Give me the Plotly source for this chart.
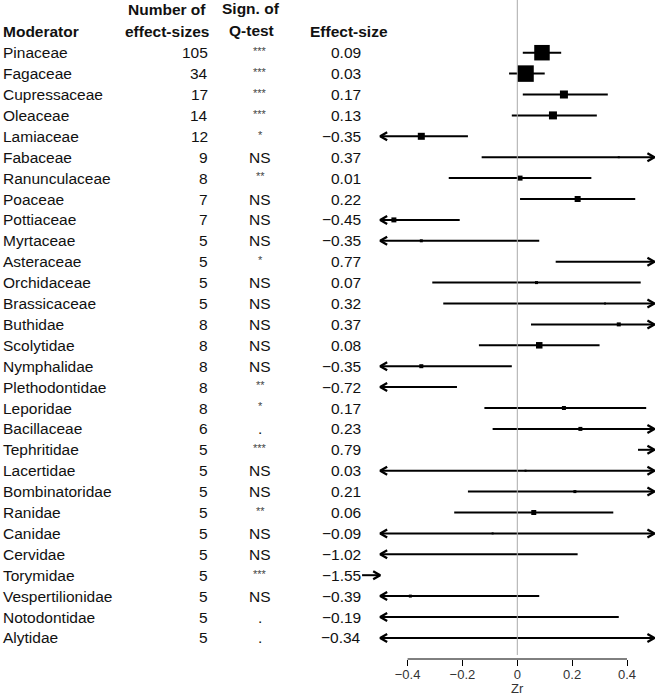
import plotly.graph_objects as go

moderators = ["Pinaceae", "Fagaceae", "Cupressaceae", "Oleaceae", "Lamiaceae", "Fabaceae",
              "Ranunculaceae", "Poaceae", "Pottiaceae", "Myrtaceae", "Asteraceae", "Orchidaceae",
              "Brassicaceae", "Buthidae", "Scolytidae", "Nymphalidae", "Plethodontidae",
              "Leporidae", "Bacillaceae", "Tephritidae", "Lacertidae", "Bombinatoridae",
              "Ranidae", "Canidae", "Cervidae", "Torymidae", "Vespertilionidae",
              "Notodontidae", "Alytidae"]
n_es = [105, 34, 17, 14, 12, 9, 8, 7, 7, 5, 5, 5, 5, 8, 8, 8, 8, 8, 6, 5, 5, 5, 5, 5, 5, 5, 5, 5, 5]
q_sig = ["***", "***", "***", "***", "*", "NS", "**", "NS", "NS", "NS", "*", "NS", "NS", "NS",
         "NS", "NS", "**", "*", ".", "***", "NS", "NS", "**", "NS", "NS", "***", "NS", ".", "."]
effect = [0.09, 0.03, 0.17, 0.13, -0.35, 0.37, 0.01, 0.22, -0.45, -0.35, 0.77, 0.07, 0.32, 0.37,
          0.08, -0.35, -0.72, 0.17, 0.23, 0.79, 0.03, 0.21, 0.06, -0.09, -1.02, -1.55, -0.39,
          -0.19, -0.34]
ci_low = [0.02, -0.03, 0.02, -0.02, -0.52, -0.13, -0.25, 0.01, -0.69, -0.78, 0.14, -0.31, -0.27,
          0.05, -0.14, -0.68, -1.22, -0.12, -0.09, 0.44, -0.90, -0.18, -0.23, -0.80, -2.26,
          -2.50, -0.86, -0.75, -1.10]
ci_high = [0.16, 0.10, 0.33, 0.29, -0.18, 0.87, 0.27, 0.43, -0.21, 0.08, 1.40, 0.45, 0.91, 0.69,
           0.30, -0.02, -0.22, 0.47, 0.55, 1.14, 0.96, 0.60, 0.35, 0.62, 0.22, -0.60, 0.08,
           0.37, 0.52]
weight_px = [15.5, 16.5, 8, 8, 7, 2, 5, 6, 5, 3, 3, 3, 2, 4, 6.5, 4, 3, 4, 4, 3, 2, 3, 5, 2, 2,
             2, 3, 2, 1.5]
tick_vals = [-0.4, -0.2, 0, 0.2, 0.4]
tick_labels = ["\u22120.4", "\u22120.2", "0", "0.2", "0.4"]

W, H = 656, 697
X0_PX, PX_PER_UNIT = 517.3, 274.25
ROW1_PX, ROW_PX = 52.7, 20.9
PLOT_BOTTOM = 659
xmin, xmax = -0.5, 0.5
x_range = [-X0_PX / PX_PER_UNIT, (W - X0_PX) / PX_PER_UNIT]
y_top = 1 - ROW1_PX / ROW_PX
y_bot = 1 + (PLOT_BOTTOM - ROW1_PX) / ROW_PX

FONT = "Liberation Sans, Arial, sans-serif"

def fmt(v):
    s = f"{abs(v):.2f}"
    return ("\u2212" + s) if v < 0 else s

hx = 7 / PX_PER_UNIT
hy = 4 / ROW_PX

seg_x, seg_y, head_x, head_y = [], [], [], []
for i in range(len(moderators)):
    r = i + 1
    lo, hi = ci_low[i], ci_high[i]
    if hi < xmin:
        a, b = xmin - 0.066, xmin
        seg_x += [a, b, None]; seg_y += [r, r, None]
        head_x += [b - hx, b, b - hx, None]; head_y += [r - hy, r, r + hy, None]
        continue
    a, b = max(lo, xmin), min(hi, xmax)
    seg_x += [a, b, None]; seg_y += [r, r, None]
    if lo < xmin:
        head_x += [a + hx, a, a + hx, None]; head_y += [r - hy, r, r + hy, None]
    if hi > xmax:
        head_x += [b - hx, b, b - hx, None]; head_y += [r - hy, r, r + hy, None]

fig = go.Figure()
fig.add_trace(go.Scatter(x=seg_x, y=seg_y, mode="lines", cliponaxis=False,
                         line=dict(color="black", width=2), hoverinfo="skip", showlegend=False))
fig.add_trace(go.Scatter(x=head_x, y=head_y, mode="lines", cliponaxis=False,
                         line=dict(color="black", width=2.3), hoverinfo="skip", showlegend=False))
px_, py_, ps_ = [], [], []
for i, e in enumerate(effect):
    if xmin <= e <= xmax:
        px_.append(e); py_.append(i + 1); ps_.append(weight_px[i])
fig.add_trace(go.Scatter(x=px_, y=py_, mode="markers", cliponaxis=False,
                         marker=dict(symbol="square", size=ps_, color="black", opacity=1,
                                     line=dict(width=0)),
                         hoverinfo="skip", showlegend=False))

# zero reference line and axis line
fig.add_shape(type="line", x0=0, x1=0, xref="x", yref="paper", y0=0.006, y1=1,
              line=dict(color="#aaaaaa", width=1))
fig.add_shape(type="line", x0=tick_vals[0], x1=tick_vals[-1], xref="x", yref="paper", y0=0, y1=0,
              line=dict(color="black", width=1))

ann = []
def txt(x_px, y, text, anchor, bold=False, size=15.5, color="#111111"):
    ann.append(dict(x=x_px / W, xref="paper", y=y, yref="y", text=f"<b>{text}</b>" if bold else text,
                    xanchor=anchor, yanchor="middle", showarrow=False,
                    font=dict(family=FONT, size=size, color=color)))

for i in range(len(moderators)):
    r = i + 1
    txt(1, r, moderators[i], "left")
    txt(210, r, str(n_es[i]), "right")
    if q_sig[i].startswith("*"):
        txt(260, r - 0.08, q_sig[i], "center", size=11, color="#444444")
    else:
        txt(260, r, q_sig[i], "center")
    txt(363, r, fmt(effect[i]), "right")

txt(1, 0, "Moderator", "left", bold=True)
txt(167, -1.05, "Number of", "center", bold=True)
txt(167, 0, "effect-sizes", "center", bold=True)
txt(251, -1.1, "Sign. of", "center", bold=True)
txt(251, -0.05, "Q-test", "center", bold=True)
txt(349, 0, "Effect-size", "center", bold=True)

ann.append(dict(x=0, xref="x", y=0, yref="paper", yshift=-29, text="Zr", showarrow=False,
                xanchor="center", yanchor="middle", font=dict(family=FONT, size=13, color="#333333")))

fig.update_layout(
    width=W, height=H,
    margin=dict(l=0, r=0, t=0, b=H - PLOT_BOTTOM, pad=0),
    paper_bgcolor="white", plot_bgcolor="white",
    annotations=ann,
    xaxis=dict(range=x_range, showgrid=False, zeroline=False, showline=False,
               tickvals=tick_vals, ticktext=tick_labels, ticks="outside", ticklen=6,
               tickcolor="black", tickwidth=1, ticklabelstandoff=-3,
               tickfont=dict(family=FONT, size=13, color="#333333"), fixedrange=True),
    yaxis=dict(range=[y_bot, y_top], visible=False, fixedrange=True),
)

fig.write_html("out.html", config={"displayModeBar": False},
               post_script="document.body.style.margin='0';document.body.style.overflow='hidden';")
